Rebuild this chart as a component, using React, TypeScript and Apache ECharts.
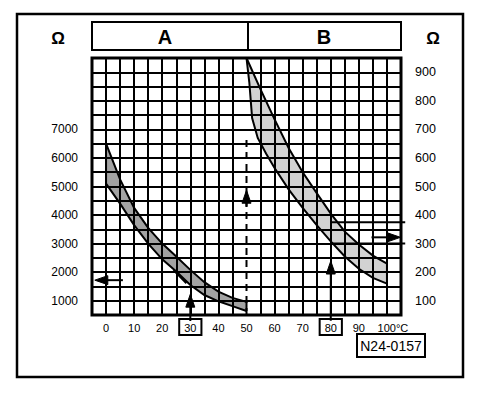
import React, { useEffect, useRef } from "react";
import * as echarts from "echarts";

const FONT = "Liberation Sans, Arial, Helvetica, sans-serif";

// Axis tick labels
const xTickLabels = [0, 10, 20, 30, 40, 50, 60, 70, 80, 90, 100];
const boxedTemps = [30, 80];
const leftTickLabels = [1000, 2000, 3000, 4000, 5000, 6000, 7000];
const rightTickLabels = [100, 200, 300, 400, 500, 600, 700, 800, 900];
const hiddenGridTemp = 50;

// Band A (left scale, ohms)
const tempsA = [0, 5, 10, 15, 20, 25, 30, 35, 40, 45, 50];
const upperA = [6500, 5250, 4250, 3550, 3000, 2550, 2080, 1650, 1320, 1100, 960];
const lowerA = [5100, 4400, 3650, 3000, 2450, 2020, 1550, 1200, 980, 810, 640];

// Band B (right scale, ohms)
const tempsBUpper = [50, 55, 60, 65, 70, 75, 80, 85, 90, 95, 100];
const upperB = [950, 840, 735, 635, 550, 477, 405, 342, 297, 258, 230];
const tempsBLower = [50, 51, 52, 54, 57, 60, 65, 70, 75, 80, 85, 90, 95, 100];
const lowerB = [950, 865, 740, 670, 615, 565, 490, 425, 365, 308, 255, 212, 180, 160];

// Annotations: [x1, y1, x2, y2, arrowHead, dashed]
const leftMarks = [
  [30, 290, 30, 1230, 1, 0],
  [6, 1720, -4, 1720, 1, 0],
  [50, 500, 50, 6800, 0, 1],
  [50, 4300, 50, 4870, 1, 0],
  [24, 2070, 28.6, 1610, 0, 0],
];
const rightMarks = [
  [80, 30, 80, 239, 1, 0],
  [80, 375, 106.5, 375, 0, 0],
  [80, 300, 106.5, 300, 0, 0],
  [94.5, 322, 104.8, 322, 1, 0],
];

function bandRenderer(tU: number[], vU: number[], tL: number[], vL: number[], fill: string) {
  return (params: any, api: any) => {
    const up = tU.map((t, i) => api.coord([t, vU[i]]));
    const lo = tL.map((t, i) => api.coord([t, vL[i]]));
    const poly = up.concat(lo.slice().reverse());
    const s = { stroke: "#000", lineWidth: 2, fill: "none" };
    const n = up.length - 1;
    const m = lo.length - 1;
    return {
      type: "group",
      children: [
        { type: "polygon", shape: { points: poly }, style: { fill, stroke: "none" } },
        { type: "polyline", shape: { points: up }, style: s },
        { type: "polyline", shape: { points: lo }, style: s },
        { type: "line", shape: { x1: up[0][0], y1: up[0][1], x2: lo[0][0], y2: lo[0][1] }, style: s },
        { type: "line", shape: { x1: up[n][0], y1: up[n][1], x2: lo[m][0], y2: lo[m][1] }, style: s },
      ],
    };
  };
}

function markRenderer(params: any, api: any) {
  const p1 = api.coord([api.value(0), api.value(1)]);
  const p2 = api.coord([api.value(2), api.value(3)]);
  const head = api.value(4) === 1;
  const dashed = api.value(5) === 1;
  const children: any[] = [];
  const dx = p2[0] - p1[0];
  const dy = p2[1] - p1[1];
  const len = Math.sqrt(dx * dx + dy * dy) || 1;
  const ux = dx / len;
  const uy = dy / len;
  const L = 13;
  const W = 9;
  const endX = head ? p2[0] - ux * (L - 2) : p2[0];
  const endY = head ? p2[1] - uy * (L - 2) : p2[1];
  children.push({
    type: "line",
    shape: { x1: p1[0], y1: p1[1], x2: endX, y2: endY },
    style: { stroke: "#000", lineWidth: 2, lineDash: dashed ? [7, 5] : null },
  });
  if (head) {
    const bx = p2[0] - ux * L;
    const by = p2[1] - uy * L;
    const nx = -uy;
    const ny = ux;
    children.push({
      type: "polygon",
      shape: {
        points: [
          [p2[0], p2[1]],
          [bx + (nx * W) / 2, by + (ny * W) / 2],
          [bx - (nx * W) / 2, by - (ny * W) / 2],
        ],
      },
      style: { fill: "#000", stroke: "#000", lineWidth: 1 },
    });
  }
  return { type: "group", children };
}

export default function App() {
  const ref = useRef<HTMLDivElement>(null);
  useEffect(() => {
    if (!ref.current) return;
    const chart = echarts.init(ref.current, null, { renderer: "svg" });
    const xLineColors: string[] = [];
    for (let t = -5; t <= 105; t += 5) xLineColors.push(t === hiddenGridTemp ? "rgba(0,0,0,0)" : "#000");

    const option: any = {
      animation: false,
      backgroundColor: "#fff",
      grid: {
        left: 92,
        right: 95,
        top: 58,
        bottom: 79,
        show: true,
        borderColor: "#000",
        borderWidth: 3,
        backgroundColor: "transparent",
      },
      xAxis: {
        type: "value",
        min: -5,
        max: 105,
        interval: 5,
        axisLine: { show: false },
        axisTick: { show: false },
        splitLine: { show: true, lineStyle: { color: xLineColors, width: 2 } },
        axisLabel: {
          margin: 6,
          color: "#000",
          fontFamily: FONT,
          fontSize: 11,
          formatter: (v: number) => {
            if (!xTickLabels.includes(v)) return "";
            if (boxedTemps.includes(v)) return `{box|${v}}`;
            if (v === 100) return `{pad|}{n|${v}°C}`;
            return `{n|${v}}`;
          },
          rich: {
            n: { fontSize: 11, fontFamily: FONT, color: "#000", lineHeight: 12, padding: [3, 4, 2, 4] },
            pad: { width: 12, lineHeight: 12 },
            box: {
              fontSize: 11,
              fontFamily: FONT,
              color: "#000",
              lineHeight: 12,
              padding: [3, 5, 2, 5],
              borderColor: "#000",
              borderWidth: 2,
            },
          },
        },
      },
      yAxis: [
        {
          type: "value",
          min: 500,
          max: 9500,
          interval: 500,
          position: "left",
          axisLine: { show: false },
          axisTick: { show: false },
          splitLine: { show: true, lineStyle: { color: "#000", width: 2 } },
          axisLabel: {
            margin: 14,
            color: "#000",
            fontFamily: FONT,
            fontSize: 12,
            formatter: (v: number) => (leftTickLabels.includes(v) ? String(v) : ""),
          },
        },
        {
          type: "value",
          min: 50,
          max: 950,
          interval: 50,
          position: "right",
          axisLine: { show: false },
          axisTick: { show: false },
          splitLine: { show: false },
          axisLabel: {
            margin: 14,
            color: "#000",
            fontFamily: FONT,
            fontSize: 12.5,
            formatter: (v: number) => (rightTickLabels.includes(v) ? String(v) : ""),
          },
        },
      ],
      series: [
        {
          type: "custom",
          name: "A",
          yAxisIndex: 0,
          renderItem: bandRenderer(tempsA, upperA, tempsA, lowerA, "#a3a3a3"),
          data: [[tempsA[0], upperA[0]]],
          z: -1,
        },
        {
          type: "custom",
          name: "B",
          yAxisIndex: 1,
          renderItem: bandRenderer(tempsBUpper, upperB, tempsBLower, lowerB, "#d2d2d2"),
          data: [[tempsBUpper[0], upperB[0]]],
          z: -1,
        },
        {
          type: "custom",
          yAxisIndex: 0,
          renderItem: markRenderer,
          data: leftMarks,
          z: 4,
        },
        {
          type: "custom",
          yAxisIndex: 1,
          renderItem: markRenderer,
          data: rightMarks,
          z: 4,
        },
      ],
      graphic: [
        { type: "rect", shape: { x: 17, y: 14, width: 446, height: 363 }, style: { fill: "none", stroke: "#000", lineWidth: 2.5 } },
        { type: "rect", shape: { x: 92, y: 22, width: 309, height: 28 }, style: { fill: "none", stroke: "#000", lineWidth: 2 } },
        { type: "line", shape: { x1: 248, y1: 22, x2: 248, y2: 50 }, style: { stroke: "#000", lineWidth: 2 } },
        { type: "text", x: 165, y: 37, style: { text: "A", font: `bold 20px ${FONT}`, fill: "#000", align: "center", verticalAlign: "middle" } },
        { type: "text", x: 324, y: 37, style: { text: "B", font: `bold 20px ${FONT}`, fill: "#000", align: "center", verticalAlign: "middle" } },
        { type: "text", x: 58, y: 38, style: { text: "Ω", font: `bold 17px ${FONT}`, fill: "#000", align: "center", verticalAlign: "middle" } },
        { type: "text", x: 433, y: 38, style: { text: "Ω", font: `bold 17px ${FONT}`, fill: "#000", align: "center", verticalAlign: "middle" } },
        { type: "rect", shape: { x: 357, y: 334, width: 68, height: 23 }, style: { fill: "#fff", stroke: "#000", lineWidth: 2 } },
        { type: "text", x: 391, y: 346, style: { text: "N24-0157", font: `14px ${FONT}`, fill: "#000", align: "center", verticalAlign: "middle" } },
      ],
    };
    chart.setOption(option);
    return () => chart.dispose();
  }, []);
  return (
    <div
      ref={ref}
      style={{ position: "absolute", left: 0, top: 0, width: 496, height: 394, background: "#fff" }}
    />
  );
}
